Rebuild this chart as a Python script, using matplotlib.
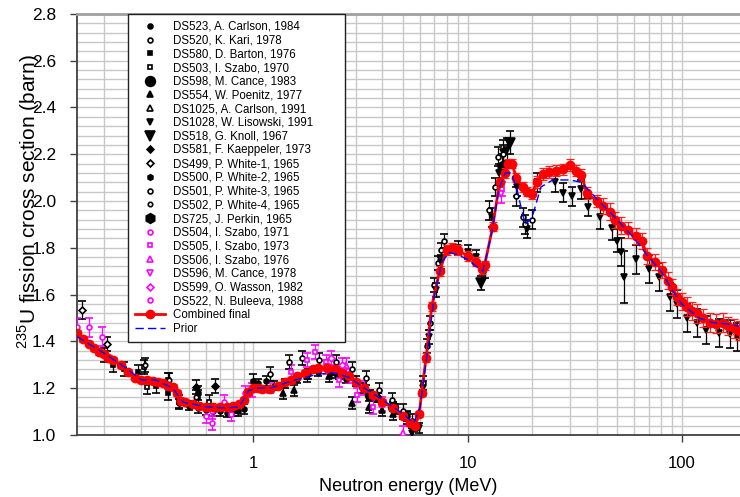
import matplotlib
matplotlib.use('Agg')
import matplotlib.pyplot as plt
from matplotlib.ticker import FixedLocator, NullFormatter, LogLocator

plt.rcParams['font.family'] = ['Liberation Sans', 'DejaVu Sans']
plt.rcParams['mathtext.fontset'] = 'custom'
plt.rcParams['mathtext.rm'] = 'Liberation Sans'

# measured data sets: energy (MeV), cross section (b), uncertainty (b)
ds523_e = [0.45, 0.5, 0.55, 0.6, 0.65, 0.7, 0.75, 0.8, 0.85, 0.9, 1.05, 1.15, 1.25, 1.4, 1.6, 1.8, 2.0, 2.3, 2.7, 3.2, 3.8, 4.5, 5.2]
ds523_s = [1.135, 1.125, 1.115, 1.105, 1.10, 1.10, 1.095, 1.10, 1.10, 1.11, 1.22, 1.23, 1.21, 1.22, 1.24, 1.26, 1.27, 1.265, 1.24, 1.20, 1.16, 1.12, 1.08]
ds523_d = [0.02] * 23

ds520_e = [1.2, 1.47, 1.69, 2.03, 2.44, 2.9, 3.37, 3.87, 4.46, 4.97, 5.5, 6.2, 6.43, 6.64, 7.0, 7.25, 7.55, 7.8]
ds520_s = [1.26, 1.31, 1.33, 1.32, 1.31, 1.28, 1.245, 1.19, 1.15, 1.10, 1.06, 1.22, 1.38, 1.48, 1.64, 1.735, 1.79, 1.83]
ds520_d = [0.03] * 18

ds580_e = [0.2, 0.22, 0.25, 0.29, 0.35, 0.4, 0.45]
ds580_s = [1.34, 1.30, 1.28, 1.27, 1.21, 1.18, 1.14]
ds580_d = [0.03] * 7

ds503_e = [0.31, 0.32, 0.4, 0.55, 0.62]
ds503_s = [1.29, 1.205, 1.235, 1.16, 1.14]
ds503_d = [0.03] * 5

ds598_e = [2.5, 3.5, 4.5]
ds598_s = [1.26, 1.17, 1.12]
ds598_d = [0.02] * 3

ds554_e = [1.37, 1.55, 1.77, 2.26, 2.9, 3.48, 4.0, 4.5, 5.2, 5.6]
ds554_s = [1.18, 1.19, 1.25, 1.25, 1.137, 1.12, 1.107, 1.09, 1.073, 1.04]
ds554_d = [0.025] * 10

ds1025_e = [3.0, 3.8, 4.6]
ds1025_s = [1.23, 1.16, 1.11]
ds1025_d = [0.02] * 3

ds1028_e = [5.5, 5.9, 6.2, 6.6, 7.1, 7.5, 9.0, 10.0, 11.0, 12.0, 13.0, 14.0, 14.6, 15.3, 17.0, 19.0, 21.0, 25.5, 28.0, 30.7, 34.0, 36.3,
            41.4, 47.0, 49.6, 52.0, 54.0, 61.0, 70.0, 78.0, 88.0, 95.0, 106.0, 118.0, 130.0, 150.0, 168.0, 182.0]
ds1028_s = [1.01, 1.03, 1.20, 1.42, 1.62, 1.74, 1.80, 1.78, 1.76, 1.70, 1.93, 2.12, 2.21, 2.22, 2.06, 1.88, 2.08, 2.08, 2.035, 2.02, 2.05, 1.975,
            1.93, 1.885, 1.83, 1.78, 1.675, 1.75, 1.71, 1.675, 1.59, 1.56, 1.50, 1.48, 1.45, 1.435, 1.43, 1.42]
ds1028_d = [0.02, 0.02, 0.03, 0.03, 0.03, 0.03, 0.03, 0.03, 0.03, 0.03, 0.04, 0.04, 0.05, 0.05, 0.04, 0.04, 0.04, 0.04, 0.04, 0.04, 0.04, 0.04,
            0.05, 0.05, 0.05, 0.06, 0.11, 0.06, 0.06, 0.06, 0.06, 0.06, 0.06, 0.06, 0.06, 0.06, 0.06, 0.06]

ds518_e = [11.6, 15.7]
ds518_s = [1.65, 2.25]
ds518_d = [0.03, 0.05]

ds581_e = [0.54, 0.66]
ds581_s = [1.205, 1.21]
ds581_d = [0.03, 0.03]

ds499_e = [0.159, 0.208]
ds499_s = [1.534, 1.39]
ds499_d = [0.04, 0.03]

ds500_e = [0.55, 1.0]
ds500_s = [1.18, 1.23]
ds500_d = [0.03, 0.03]

ds501_e = [12.6, 13.4, 13.8, 14.6, 16.9, 18.1, 18.5, 19.9]
ds501_s = [1.96, 2.06, 2.19, 2.20, 2.02, 1.93, 1.90, 1.92]
ds501_d = [0.04] * 8

ds502_e = [0.313, 0.405, 0.54]
ds502_s = [1.30, 1.235, 1.16]
ds502_d = [0.03] * 3

ds725_e = [14.5]
ds725_s = [2.15]
ds725_d = [0.05]

ds504_e = [0.6, 0.64, 0.79]
ds504_s = [1.08, 1.05, 1.09]
ds504_d = [0.03] * 3

ds505_e = [1.5, 1.77, 1.93, 2.19, 2.52, 3.03, 3.6, 14.4]
ds505_s = [1.27, 1.32, 1.355, 1.31, 1.235, 1.17, 1.12, 2.05]
ds505_d = [0.03] * 8

ds506_e = [2.7, 3.3, 4.0, 4.97]
ds506_s = [1.30, 1.20, 1.13, 1.01]
ds506_d = [0.03] * 4

ds596_e = [2.2, 2.8, 14.3]
ds596_s = [1.29, 1.25, 2.03]
ds596_d = [0.03, 0.03, 0.04]

ds599_e = [2.3, 2.6]
ds599_s = [1.33, 1.30]
ds599_d = [0.03, 0.03]

ds522_e = [0.15, 0.17, 0.197, 0.64, 0.73, 0.91, 0.99, 1.2]
ds522_s = [1.46, 1.46, 1.42, 1.10, 1.14, 1.18, 1.19, 1.20]
ds522_d = [0.04, 0.04, 0.04, 0.03, 0.03, 0.03, 0.03, 0.02]

# combined evaluation
comb_e = [0.15, 0.16, 0.17, 0.18, 0.19, 0.2, 0.21, 0.22, 0.24, 0.26, 0.28, 0.3, 0.32, 0.34, 0.36, 0.38, 0.40, 0.42, 0.44, 0.46,
          0.48, 0.52, 0.56, 0.6, 0.65, 0.7, 0.75, 0.8, 0.86, 0.9, 0.94, 1.0, 1.05, 1.1, 1.2, 1.3, 1.4, 1.5, 1.6, 1.75, 1.9, 2.0,
          2.2, 2.4, 2.6, 2.8, 3.0, 3.3, 3.6, 4.0, 4.5, 5.0, 5.4, 5.7, 5.95, 6.1, 6.4, 6.8, 7.4, 8.0, 8.5, 9.0, 10.0, 11.0, 11.7,
          12.0, 13.1, 14.1, 14.9, 15.5, 16.1, 16.9, 18.1, 19.0, 19.9, 21, 22.4, 24, 26, 28, 30, 32, 34, 36, 40, 43, 46, 49, 52,
          56, 61, 65, 69, 75, 81, 86, 90, 95, 100, 106, 112, 118, 126, 135, 145, 156, 165, 175, 185]
comb_s = [1.435, 1.41, 1.39, 1.37, 1.355, 1.345, 1.33, 1.32, 1.30, 1.27, 1.245, 1.235, 1.235, 1.232, 1.228, 1.22, 1.21, 1.205, 1.18, 1.145,
          1.14, 1.13, 1.125, 1.12, 1.118, 1.118, 1.12, 1.122, 1.13, 1.15, 1.185, 1.20, 1.20, 1.195, 1.195, 1.21, 1.225, 1.235, 1.25, 1.265, 1.28, 1.285,
          1.285, 1.28, 1.265, 1.25, 1.225, 1.20, 1.17, 1.14, 1.115, 1.08, 1.05, 1.04, 1.09, 1.18, 1.33, 1.55, 1.70, 1.79, 1.80, 1.79, 1.765, 1.74, 1.71,
          1.725, 1.89, 2.08, 2.12, 2.16, 2.16, 2.10, 2.06, 2.04, 2.03, 2.08, 2.115, 2.125, 2.13, 2.135, 2.155, 2.13, 2.11, 2.035, 2.00, 1.98, 1.955, 1.92, 1.895,
          1.875, 1.85, 1.83, 1.765, 1.74, 1.705, 1.66, 1.633, 1.59, 1.57, 1.548, 1.53, 1.52, 1.50, 1.48, 1.475, 1.48, 1.465, 1.455, 1.445]
comb_d = [0.012] * 56 + [0.02] * 19 + [0.025] * 10 + [0.035] * 14 + [0.04] * 10

# prior
prior_e = [0.15, 0.2, 0.25, 0.3, 0.35, 0.42, 0.47, 0.6, 0.75, 0.86, 0.95, 1.05, 1.2, 1.5, 2.0, 2.4, 2.8, 3.3, 4.0, 5.0, 5.6, 6.0,
           6.5, 7.0, 7.6, 8.2, 9.0, 10, 11, 11.8, 13, 14, 15, 16, 17, 18, 18.6, 20, 22, 25, 30, 34, 40, 50, 60, 70, 80, 90,
           100, 120, 140, 160, 185]
prior_s = [1.42, 1.35, 1.29, 1.235, 1.235, 1.20, 1.14, 1.12, 1.115, 1.12, 1.19, 1.20, 1.20, 1.23, 1.26, 1.265, 1.245, 1.20, 1.15, 1.09, 1.05, 1.12,
           1.36, 1.60, 1.74, 1.78, 1.77, 1.75, 1.72, 1.70, 1.87, 2.05, 2.12, 2.12, 2.05, 1.95, 1.90, 1.93, 2.06, 2.09, 2.09, 2.08, 2.01, 1.92, 1.84, 1.76, 1.70, 1.62,
           1.56, 1.50, 1.48, 1.475, 1.465]

black = 'black'
mag = '#ff00ff'
sets = [
    ('DS523, A. Carlson, 1984', 'o', 3.5, black, True, ds523_e, ds523_s, ds523_d),
    ('DS520, K. Kari, 1978', 'o', 3.5, black, False, ds520_e, ds520_s, ds520_d),
    ('DS580, D. Barton, 1976', 's', 3.2, black, True, ds580_e, ds580_s, ds580_d),
    ('DS503, I. Szabo, 1970', 's', 3.2, black, False, ds503_e, ds503_s, ds503_d),
    ('DS598, M. Cance, 1983', 'o', 7, black, True, ds598_e, ds598_s, ds598_d),
    ('DS554, W. Poenitz, 1977', '^', 4, black, True, ds554_e, ds554_s, ds554_d),
    ('DS1025, A. Carlson, 1991', '^', 4, black, False, ds1025_e, ds1025_s, ds1025_d),
    ('DS1028, W. Lisowski, 1991', 'v', 4, black, True, ds1028_e, ds1028_s, ds1028_d),
    ('DS518, G. Knoll, 1967', 'v', 7, black, True, ds518_e, ds518_s, ds518_d),
    ('DS581, F. Kaeppeler, 1973', 'D', 3.5, black, True, ds581_e, ds581_s, ds581_d),
    ('DS499, P. White-1, 1965', 'D', 3.5, black, False, ds499_e, ds499_s, ds499_d),
    ('DS500, P. White-2, 1965', 'h', 4, black, True, ds500_e, ds500_s, ds500_d),
    ('DS501, P. White-3, 1965', 'o', 3.5, black, False, ds501_e, ds501_s, ds501_d),
    ('DS502, P. White-4, 1965', 'o', 3.2, black, False, ds502_e, ds502_s, ds502_d),
    ('DS725, J. Perkin, 1965', 'h', 7, black, True, ds725_e, ds725_s, ds725_d),
    ('DS504, I. Szabo, 1971', 'o', 3.5, mag, False, ds504_e, ds504_s, ds504_d),
    ('DS505, I. Szabo, 1973', 's', 3.5, mag, False, ds505_e, ds505_s, ds505_d),
    ('DS506, I. Szabo, 1976', '^', 4, mag, False, ds506_e, ds506_s, ds506_d),
    ('DS596, M. Cance, 1978', 'v', 4, mag, False, ds596_e, ds596_s, ds596_d),
    ('DS599, O. Wasson, 1982', 'D', 3.5, mag, False, ds599_e, ds599_s, ds599_d),
    ('DS522, N. Buleeva, 1988', 'o', 3.5, mag, False, ds522_e, ds522_s, ds522_d),
]

fig = plt.figure(figsize=(7.4, 4.97), dpi=100)
ax = fig.add_axes([0.104, 0.125, 0.896, 0.847])

handles = []
for label, m, ms, c, filled, e, s, d in sets:
    h = ax.errorbar(e, s, yerr=d, fmt=m, ms=ms, color=c, mfc=c if filled else 'white',
                    mec=c, mew=1.2, ecolor=c, elinewidth=0.9, capsize=3, capthick=0.9, zorder=3)
    h.lines[0].set_label(label)
    handles.append(h.lines[0])

hc = ax.errorbar(comb_e, comb_s, yerr=comb_d, fmt='-o', color='#ff0000', ms=6, lw=2,
                 ecolor='#ff2020', elinewidth=0.9, capsize=3, capthick=0.9, zorder=4)
hc.lines[0].set_label('Combined final')
handles.append(hc.lines[0])

hp, = ax.plot(prior_e, prior_s, color='#0000ff', lw=1.0, ls=(0, (6, 3)), zorder=5, label='Prior')
handles.append(hp)

ax.set_xscale('log')
ax.set_xlim(0.15, 187)
ax.set_ylim(1.0, 2.8)
ax.set_yticks([1.0, 1.2, 1.4, 1.6, 1.8, 2.0, 2.2, 2.4, 2.6, 2.8])
ax.set_yticklabels(['1.0', '1.2', '1.4', '1.6', '1.8', '2.0', '2.2', '2.4', '2.6', '2.8'])
ax.yaxis.set_minor_locator(FixedLocator([1.0 + 0.04 * i for i in range(46)]))
ax.xaxis.set_major_locator(FixedLocator([1, 10, 100]))
ax.set_xticklabels(['1', '10', '100'])
ax.xaxis.set_minor_locator(LogLocator(base=10, subs=range(2, 10), numticks=20))
ax.xaxis.set_minor_formatter(NullFormatter())
ax.tick_params(which='minor', length=0)
ax.tick_params(which='major', direction='out', length=5, width=1, color='#404040', labelsize=12.5)
ax.tick_params(axis='y', pad=10)
ax.tick_params(axis='x', labelsize=12, pad=10)

ax.grid(True, which='both', color='#c8c8c8', lw=1.0, zorder=0)
ax.set_axisbelow(True)

for side in ['left', 'bottom']:
    ax.spines[side].set_color('#404040')
    ax.spines[side].set_linewidth(1.3)
ax.spines['top'].set_color('#a0a0a0')
ax.spines['top'].set_linewidth(2)
ax.spines['right'].set_visible(False)

ax.set_xlabel('Neutron energy (MeV)', fontsize=13, labelpad=5)
ax.set_ylabel('$^{235}$U fission cross section (barn)', fontsize=15)
ax.yaxis.set_label_coords(-0.053, 0.555)

leg = ax.legend(handles=handles, loc='upper left', bbox_to_anchor=(0.077, 0.0, 0.327, 1.0), mode='expand',
                fontsize=8.3, numpoints=1, handlelength=2.6, handletextpad=0.7, labelspacing=0.15,
                borderpad=0.6, borderaxespad=0, fancybox=False, framealpha=1)
leg.get_frame().set_edgecolor('#202020')
leg.get_frame().set_linewidth(1.0)

fig.savefig('out.png', dpi=100)
